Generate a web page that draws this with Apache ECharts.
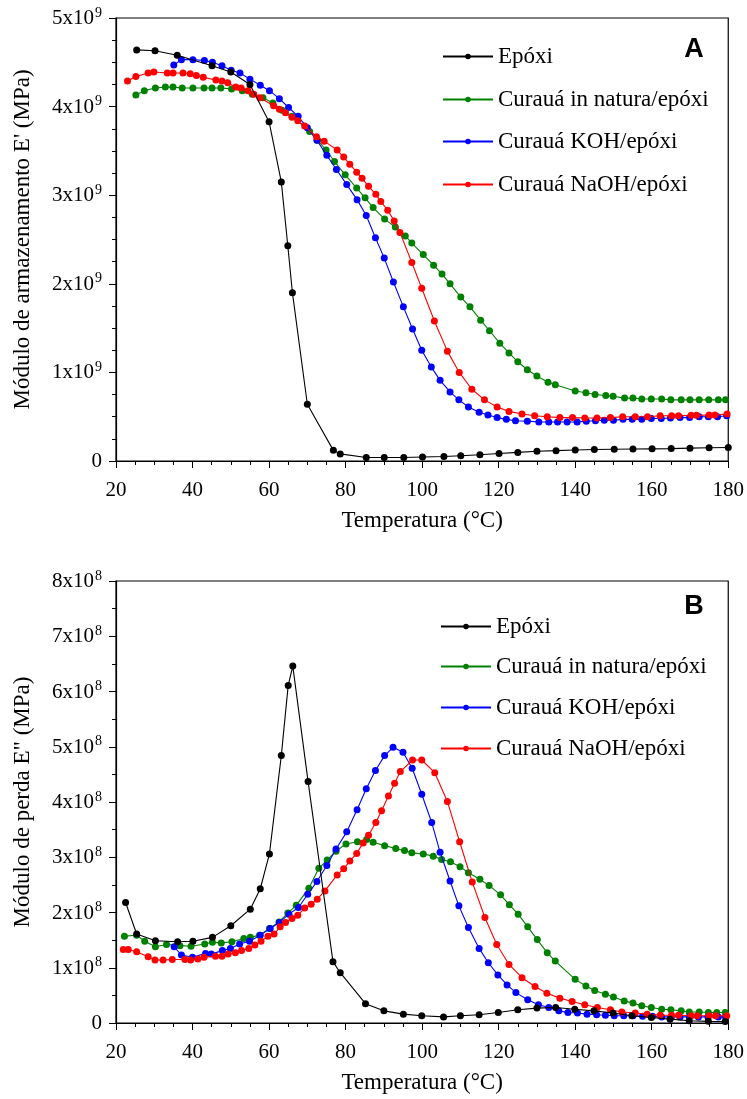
<!DOCTYPE html>
<html>
<head>
<meta charset="utf-8">
<script src="https://cdn.jsdelivr.net/npm/echarts@6/dist/echarts.min.js"></script>
<style>
  html, body { margin: 0; padding: 0; background: #fff; }
  #chart { width: 747px; height: 1099px; }
</style>
</head>
<body>
<div id="chart"></div>
<script>
// Series names (shared by both panels)
const seriesNames = ['Epóxi', 'Curauá in natura/epóxi', 'Curauá KOH/epóxi', 'Curauá NaOH/epóxi'];
const seriesColors = ['#000000', '#008000', '#0000ff', '#ff0000'];

// Panel A: storage modulus E' in units of 10^9 MPa, [temperature °C, value]
const storageEpoxi = [[25.4,4.64],[30.2,4.63],[36,4.58],[45.1,4.46],[50,4.39],[55,4.25],[60,3.83],[63.2,3.15],[64.9,2.43],[66.1,1.90],[70,0.64],[76.8,0.12],[78.6,0.08],[85.4,0.04],[90.1,0.04],[95.2,0.04],[100.1,0.045],[105.7,0.05],[110.1,0.06],[115.1,0.07],[120.1,0.085],[125,0.097],[130,0.11],[135,0.117],[140,0.125],[145,0.13],[150.2,0.133],[155.1,0.135],[160.1,0.137],[165.1,0.14],[170,0.145],[175,0.15],[180,0.153]];
const storageNatura = [[25.2,4.13],[27.4,4.18],[30.3,4.21],[32.9,4.22],[34.9,4.22],[37.3,4.21],[40.1,4.21],[43,4.21],[45.1,4.21],[47.4,4.21],[50.2,4.20],[53,4.18],[55.6,4.14],[58.4,4.10],[61,4.04],[63.4,3.96],[66,3.89],[70.6,3.72],[72.7,3.62],[74.9,3.51],[77.1,3.38],[79.9,3.23],[82.9,3.08],[85.1,2.97],[87.2,2.86],[90.2,2.73],[93,2.64],[95.6,2.54],[97.3,2.46],[100.3,2.33],[103,2.21],[105.2,2.11],[107.3,2.00],[110.1,1.85],[112.5,1.74],[115.3,1.59],[117.6,1.47],[120.3,1.33],[122.7,1.22],[125,1.12],[127.5,1.03],[130,0.96],[132.9,0.89],[134.8,0.86],[140,0.79],[142.8,0.77],[145.2,0.75],[148,0.74],[149.9,0.73],[152.9,0.71],[155.1,0.71],[157.4,0.70],[159.9,0.70],[162.6,0.70],[165,0.69],[167.7,0.69],[170,0.69],[172.4,0.69],[174.9,0.69],[177.4,0.69],[179.3,0.69]];
const storageKOH = [[35.1,4.47],[37.1,4.53],[40.1,4.53],[43.1,4.52],[45.2,4.50],[47.7,4.46],[50.1,4.41],[52.4,4.38],[55,4.31],[57.7,4.24],[60.1,4.18],[62.7,4.09],[65.1,3.99],[67.6,3.89],[70,3.76],[72.5,3.62],[75.1,3.45],[77.6,3.29],[80.3,3.12],[83,2.95],[85.4,2.77],[87.8,2.52],[90.1,2.29],[92.5,2.02],[95.1,1.74],[97.5,1.49],[99.9,1.25],[102.4,1.06],[104.7,0.91],[107.3,0.78],[109.6,0.69],[112.1,0.61],[114.9,0.55],[117.2,0.52],[119.6,0.49],[122,0.47],[124.4,0.455],[127.5,0.45],[130.5,0.44],[133.1,0.44],[135.4,0.44],[137.9,0.44],[140.5,0.44],[142.9,0.45],[145.3,0.455],[147.6,0.46],[150,0.46],[152.5,0.47],[154.9,0.47],[157.4,0.47],[159.9,0.48],[162.5,0.48],[164.9,0.485],[167.4,0.49],[169.9,0.49],[172.4,0.50],[174.8,0.50],[177.2,0.50],[179.6,0.51]];
const storageNaOH = [[23,4.29],[25.2,4.34],[28.4,4.38],[29.9,4.39],[33.4,4.38],[34.9,4.38],[37.5,4.38],[39.4,4.37],[41,4.35],[42.8,4.33],[46.1,4.30],[47.7,4.29],[49.2,4.27],[51.3,4.22],[52.7,4.21],[54.5,4.18],[56,4.14],[57.6,4.10],[61.2,4.01],[62.7,3.97],[64.3,3.93],[66,3.88],[67.5,3.84],[69.3,3.78],[72.4,3.66],[74.4,3.61],[77.8,3.51],[79.5,3.43],[81.1,3.35],[82.9,3.26],[84.3,3.19],[86,3.10],[87.9,3.01],[89.2,2.93],[91,2.83],[92.7,2.71],[94.2,2.58],[97.3,2.24],[99.9,1.95],[103.2,1.58],[106.6,1.24],[109.7,1.00],[113,0.81],[116.3,0.69],[119.6,0.61],[122.7,0.56],[126.1,0.53],[129.4,0.51],[132.7,0.50],[136,0.49],[139.3,0.49],[142.5,0.485],[145.7,0.485],[149.2,0.49],[152.4,0.50],[155.7,0.50],[158.9,0.50],[162.2,0.51],[165.2,0.51],[167,0.51],[170.3,0.515],[171.7,0.515],[175,0.52],[176.5,0.52],[179.7,0.53]];

// Panel B: loss modulus E" in units of 10^8 MPa, [temperature °C, value]
const lossEpoxi = [[22.5,2.18],[25.4,1.61],[30.3,1.49],[36.1,1.47],[40.1,1.48],[45.2,1.55],[50,1.76],[55.1,2.06],[57.7,2.43],[60.1,3.06],[63.2,4.84],[65,6.11],[66.2,6.46],[70.2,4.37],[76.7,1.11],[78.6,0.91],[85.2,0.35],[90,0.22],[95.1,0.16],[99.9,0.13],[105.6,0.11],[110,0.13],[114.9,0.15],[119.9,0.19],[125,0.24],[130,0.27],[134.9,0.28],[139.9,0.25],[144.9,0.22],[149.9,0.18],[154.8,0.13],[159.9,0.10],[164.8,0.07],[169.8,0.04],[174.8,0.03],[179.2,0.025]];
const lossNatura = [[22.2,1.57],[25.4,1.59],[27.5,1.48],[30.3,1.38],[33.2,1.42],[36.7,1.40],[39.6,1.39],[43.2,1.43],[45.2,1.46],[47.5,1.45],[50.3,1.47],[53.4,1.53],[55.1,1.55],[57.5,1.59],[60.1,1.71],[62.6,1.83],[64.9,1.99],[67.1,2.13],[70.4,2.44],[73,2.80],[75.2,2.95],[77.5,3.11],[80.1,3.24],[83.1,3.28],[85.5,3.32],[87.2,3.27],[90.2,3.21],[93.1,3.16],[95.4,3.12],[97.3,3.08],[100.3,3.06],[102.9,3.02],[105.1,2.96],[107.4,2.92],[109.9,2.83],[112.1,2.72],[115.1,2.60],[117.5,2.49],[120.5,2.32],[122.8,2.14],[125.1,1.97],[127.6,1.74],[130.1,1.51],[132.7,1.27],[134.8,1.12],[140,0.79],[142.8,0.67],[145.1,0.59],[147.9,0.52],[150,0.47],[152.8,0.40],[155.1,0.36],[157.4,0.31],[159.9,0.28],[162.6,0.25],[165,0.24],[167.7,0.22],[169.8,0.20],[172.4,0.20],[174.8,0.19],[177,0.19],[179.2,0.19]];
const lossKOH = [[35.2,1.38],[37.1,1.23],[40,1.19],[43.4,1.26],[44.9,1.25],[47.8,1.31],[49.9,1.35],[52.3,1.43],[54.9,1.48],[57.7,1.59],[60.3,1.71],[62.7,1.82],[65.2,1.97],[67.7,2.09],[70.1,2.33],[72.5,2.56],[75.1,2.85],[77.5,3.15],[80.3,3.46],[83,3.86],[85.4,4.24],[87.8,4.57],[90.2,4.84],[92.4,4.99],[95,4.90],[97.4,4.61],[99.9,4.14],[102.5,3.63],[104.7,3.09],[107.3,2.57],[109.6,2.12],[112.1,1.73],[114.9,1.35],[117.3,1.09],[119.8,0.87],[122.2,0.69],[124.5,0.55],[127.6,0.42],[130.4,0.33],[133.1,0.28],[135.7,0.22],[138.1,0.19],[140.6,0.18],[143.1,0.16],[145.6,0.15],[147.9,0.14],[150.2,0.13],[152.7,0.13],[155.1,0.13],[157.6,0.12],[160.2,0.12],[162.6,0.11],[165.1,0.11],[167.4,0.11],[169.8,0.11],[172.2,0.11],[174.7,0.11],[177.4,0.11],[179.3,0.11]];
const lossNaOH = [[21.9,1.33],[23.2,1.33],[25.4,1.29],[28.4,1.20],[30.2,1.14],[32.3,1.14],[34.7,1.15],[38,1.15],[39.5,1.14],[41.4,1.16],[43,1.19],[46,1.21],[47.7,1.21],[49.3,1.25],[51.2,1.27],[52.8,1.31],[54.7,1.35],[56.3,1.41],[57.9,1.48],[59.7,1.57],[61.3,1.61],[62.9,1.74],[64.3,1.82],[66,1.89],[67.5,1.95],[69.3,2.08],[71,2.15],[72.6,2.24],[74.6,2.39],[77.8,2.68],[79.5,2.79],[81.1,2.93],[82.9,3.07],[84.6,3.26],[86,3.40],[87.9,3.63],[89.4,3.84],[91.2,4.11],[92.8,4.34],[94.3,4.55],[97.5,4.76],[99.9,4.76],[103.3,4.53],[106.6,4.01],[109.8,3.28],[113.1,2.55],[116.4,1.91],[119.5,1.42],[122.7,1.06],[126.1,0.82],[129.5,0.66],[132.6,0.54],[136,0.45],[139.2,0.39],[142.5,0.33],[145.8,0.28],[149.2,0.24],[152.2,0.20],[155.7,0.18],[158.8,0.16],[162.2,0.14],[165.2,0.14],[167,0.14],[170.3,0.13],[171.9,0.13],[175,0.13],[176.7,0.13],[179.6,0.13]];

// Axis settings
const tempRange = { min: 20, max: 180, step: 20 };
const storageAxis = { min: 0, max: 5, step: 1, exponent: 9 };
const lossAxis = { min: 0, max: 8, step: 1, exponent: 8 };
const panelLetters = ['A', 'B'];
const xAxisTitle = 'Temperatura (°C)';
const yAxisTitles = ["Módulo de armazenamento E' (MPa)", 'Módulo de perda E" (MPa)'];

const SERIF = '"Liberation Serif", "Times New Roman", serif';
const SANS = '"Liberation Sans", Arial, sans-serif';

const chart = echarts.init(document.getElementById('chart'), null, { renderer: 'canvas' });

const grids = [
  { left: 116, top: 18, width: 614, height: 443 },
  { left: 116, top: 581, width: 614, height: 442 }
];

function xAxisFor(gridIndex) {
  return {
    type: 'value', gridIndex,
    min: tempRange.min, max: tempRange.max, interval: tempRange.step,
    name: xAxisTitle, nameLocation: 'middle', nameGap: 48,
    nameTextStyle: { fontFamily: SERIF, fontSize: 23, color: '#000' },
    axisLine: { show: true, onZero: false, lineStyle: { color: '#000', width: 1.2 } },
    axisTick: { show: true, inside: false, length: 7, lineStyle: { color: '#000', width: 1 } },
    minorTick: { show: true, splitNumber: 4, length: 4, lineStyle: { color: '#000', width: 1 } },
    axisLabel: { margin: 19, fontFamily: SERIF, fontSize: 21, color: '#000' },
    splitLine: { show: false }
  };
}

function yAxisFor(gridIndex, ax, title, minorSplit) {
  return {
    type: 'value', gridIndex,
    min: ax.min, max: ax.max, interval: ax.step,
    name: title, nameLocation: 'middle', nameGap: 82,
    nameTextStyle: { fontFamily: SERIF, fontSize: 23, color: '#000' },
    axisLine: { show: true, onZero: false, lineStyle: { color: '#000', width: 1.2 } },
    axisTick: { show: true, inside: false, length: 7, lineStyle: { color: '#000', width: 1 } },
    minorTick: { show: true, splitNumber: minorSplit, length: 4, lineStyle: { color: '#000', width: 1 } },
    axisLabel: {
      margin: 14,
      formatter: v => v === 0 ? '{b|0}' : '{b|' + v + 'x10}{s|' + ax.exponent + '}',
      rich: {
        b: { fontFamily: SERIF, fontSize: 21, color: '#000', verticalAlign: 'bottom', lineHeight: 22 },
        s: { fontFamily: SERIF, fontSize: 14, color: '#000', verticalAlign: 'bottom', padding: [0, 0, 9, 1], lineHeight: 14 }
      }
    },
    splitLine: { show: false }
  };
}

const panelData = [
  [storageEpoxi, storageNatura, storageKOH, storageNaOH],
  [lossEpoxi, lossNatura, lossKOH, lossNaOH]
];

const series = [];
panelData.forEach((sets, gi) => {
  sets.forEach((d, si) => {
    series.push({
      name: seriesNames[si], type: 'line',
      xAxisIndex: gi, yAxisIndex: gi,
      data: d,
      symbol: 'circle', symbolSize: 7, showSymbol: true,
      lineStyle: { color: seriesColors[si], width: 1.1 },
      itemStyle: { color: seriesColors[si] },
      z: si === 0 ? 6 : 2 + si,
      animation: false
    });
  });
});

// One legend entry per row, positioned inside each panel
const legendRows = [
  { left: 442, centers: [56, 99, 141, 184] },
  { left: 440, centers: [626, 666, 707, 748] }
];
const legends = [];
legendRows.forEach(row => {
  seriesNames.forEach((n, i) => {
    legends.push({
      data: [n], left: row.left, top: row.centers[i] - 11,
      padding: 0,
      itemWidth: 50, itemHeight: 7, itemGap: 0,
      selectedMode: false,
      textStyle: { fontFamily: SERIF, fontSize: 23, color: '#000', lineHeight: 22 },
      itemTextGap: 8
    });
  });
});

chart.setOption({
  backgroundColor: '#fff',
  animation: false,
  grid: grids.map(g => Object.assign({ show: true, borderColor: '#000', borderWidth: 1.2, backgroundColor: 'transparent', containLabel: false }, g)),
  xAxis: [xAxisFor(0), xAxisFor(1)],
  yAxis: [yAxisFor(0, storageAxis, yAxisTitles[0], 4), yAxisFor(1, lossAxis, yAxisTitles[1], 2)],
  legend: legends,
  graphic: [
    { type: 'text', x: 694, y: 50, style: { text: panelLetters[0], font: 'bold 27px ' + SANS, fill: '#000', align: 'center', verticalAlign: 'middle' } },
    { type: 'text', x: 694, y: 607, style: { text: panelLetters[1], font: 'bold 27px ' + SANS, fill: '#000', align: 'center', verticalAlign: 'middle' } }
  ],
  series
});
</script>
</body>
</html>
